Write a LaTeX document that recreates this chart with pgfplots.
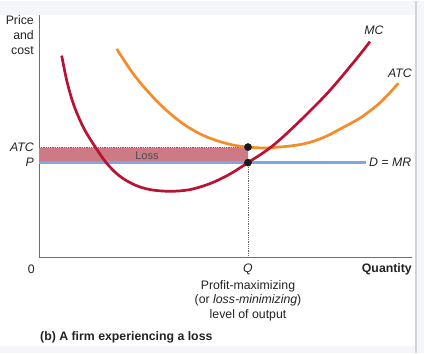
\documentclass[border=0pt]{standalone}
\usepackage{pgfplots}
\pgfplotsset{compat=1.18}
\usepackage{fontspec}
\setmainfont{Liberation Sans}
\definecolor{mccol}{RGB}{186,18,50}
\definecolor{atccol}{RGB}{246,140,40}
\definecolor{dmrcol}{RGB}{125,168,222}
\definecolor{losscol}{RGB}{205,122,134}
\definecolor{bgcol}{RGB}{244,246,250}
\definecolor{axcol}{RGB}{110,110,110}
\definecolor{txtcol}{RGB}{35,35,35}
\begin{document}
\begin{tikzpicture}[x=1bp,y=1bp,font=\fontsize{12.3bp}{14bp}\selectfont, text=txtcol]
\fill[bgcol] (0,0) rectangle (424,352);
\fill[white] (0,7) rectangle (415,338);
\draw[gray!35,line width=1.2bp] (416,0) -- (416,352);
\begin{axis}[
  at={(39bp,95bp)}, anchor=south west,
  scale only axis, width=373bp, height=243bp,
  xmin=0, xmax=373, ymin=0, ymax=243,
  axis x line*=bottom, axis y line*=left,
  axis line style={axcol, line width=0.9bp, -},
  xtick=\empty, ytick=\empty,
  clip=false,
]
% loss rectangle
\addplot[fill=losscol, draw=none] coordinates {(0,95) (209,95) (209,110) (0,110) (0,95)};
% dotted lines
\addplot[gray!80!black, densely dotted, line width=0.8bp] coordinates {(0,110) (209,110)};
\addplot[gray!80!black, densely dotted, line width=0.8bp] coordinates {(209,0) (209,95)};
% D = MR
\addplot[dmrcol, line width=3bp] coordinates {(0,95) (327,95)};
% ATC
\addplot[atccol, line width=2.7bp, smooth, tension=0.55] coordinates {
(77.7,208.7) (94.3,183.7) (111,163.7) (127.7,147) (144.3,133.7) (161,123.7) (177.7,117) (194.3,112.5) (209,110.5) (227.7,109.7) (254.3,112) (271,115.3) (287.7,121.5) (304.3,130.3) (321,139.5) (337.7,152) (347.7,161.5) (359.3,174.3)};
% MC
\addplot[mccol, line width=2.7bp, smooth, tension=0.55] coordinates {
(22.7,202) (28,176) (35,152) (45,129) (58,108) (68,94) (80,82) (95,73) (111,68) (131,66.3) (151,68) (171,74) (190,83) (209,95) (231,109.7) (254.3,130.3) (287.7,163.7) (316,197) (331,216)};
% dots
\addplot[only marks, mark=*, mark size=3.6bp, black!90] coordinates {(209,110.5) (209,95)};
\end{axis}
% labels
\node[anchor=east, inner sep=0] at (34,332) {Price};
\node[anchor=east, inner sep=0] at (34,317) {and};
\node[anchor=east, inner sep=0] at (34,302) {cost};
\node[anchor=east, inner sep=0] at (34,205) {\itshape ATC};
\node[anchor=east, inner sep=0] at (34,190) {\itshape P};
\node[anchor=east, inner sep=0] at (35,83) {0};
\node[inner sep=0] at (248,83) {\itshape Q};
\node[anchor=east, inner sep=0] at (412,83) {\bfseries Quantity};
\node[inner sep=0] at (248,66) {Profit-maximizing};
\node[inner sep=0] at (248,52) {(or \textit{loss-minimizing})};
\node[inner sep=0] at (248,37) {level of output};
\node[anchor=west, inner sep=0] at (40,15) {\bfseries (b) A firm experiencing a loss};
\node[inner sep=0] at (374,322) {\itshape MC};
\node[inner sep=0] at (400,279) {\itshape ATC};
\node[anchor=west, inner sep=0] at (369,190) {\itshape D = MR};
\node[inner sep=0, text=black!70, font=\fontsize{11bp}{12bp}\selectfont] at (147,197) {Loss};
\end{tikzpicture}
\end{document}
